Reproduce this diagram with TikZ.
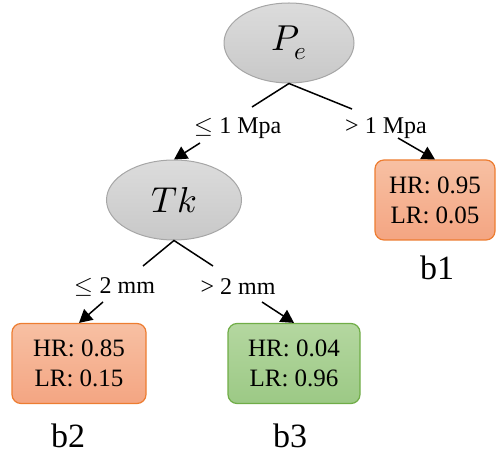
\documentclass[tikz,border=0pt]{standalone}
\usepackage{fontspec}
\usepackage{unicode-math}
\setmainfont{Liberation Serif}
\setmathfont{Latin Modern Math}
\usetikzlibrary{arrows.meta,shapes.geometric}
\definecolor{ovalfill}{HTML}{C8C8C8}
\definecolor{ovaltop}{HTML}{DCDCDC}
\definecolor{ovalline}{HTML}{A6A6A6}
\definecolor{hrtop}{HTML}{F7C0A3}
\definecolor{hrbot}{HTML}{F4A582}
\definecolor{hrline}{HTML}{ED7D31}
\definecolor{lrtop}{HTML}{B4D7A0}
\definecolor{lrbot}{HTML}{9CC985}
\definecolor{lrline}{HTML}{70AD47}
\tikzset{
  oval/.style={ellipse, draw=ovalline, line width=1pt, shading=axis,
    top color=ovaltop, bottom color=ovalfill, minimum width=130pt, minimum height=80pt,
    font=\fontsize{36}{40}\selectfont},
  leafbox/.style={rounded corners=9pt, line width=1.2pt, minimum width=130pt,
    minimum height=80pt, align=center, font=\fontsize{25}{30}\selectfont},
  hrleaf/.style={leafbox, draw=hrline, shading=axis, top color=hrtop, bottom color=hrbot},
  lrleaf/.style={leafbox, draw=lrline, shading=axis, top color=lrtop, bottom color=lrbot},
  cond/.style={font=\fontsize{24}{26}\selectfont, inner sep=0pt},
  tag/.style={font=\fontsize{34}{36}\selectfont, inner sep=0pt},
  branch/.style={line width=1.5pt},
  pointer/.style={line width=1.5pt, -{Triangle[length=13pt,width=14pt]}}
}
\begin{document}
\begin{tikzpicture}[x=1pt,y=-1pt]
\useasboundingbox (0,0) rectangle (498,454);
% decision nodes
\node[oval] (pe) at (289,43) {$P_e$};
\node[oval, minimum width=135pt] (tk) at (174,200) {$Tk$};
% leaves
\node[hrleaf, minimum width=120pt] (b1) at (435,200) {HR: 0.95\\LR: 0.05};
\node[hrleaf, minimum width=134pt] (b2) at (79,363.5) {HR: 0.85\\LR: 0.15};
\node[lrleaf, minimum width=132pt] (b3) at (294,363.5) {HR: 0.04\\LR: 0.96};
\node[tag] (t1) at (437,268) {b1};
\node[tag] (t2) at (68,436) {b2};
\node[tag] (t3) at (290,436) {b3};
% split conditions
\node[cond] (c1) at (238,128) {$\leq$ 1 Mpa};
\node[cond] (c2) at (386,128) {> 1 Mpa};
\node[cond] (c3) at (115,287) {$\leq$ 2 mm};
\node[cond] (c4) at (238,287) {> 2 mm};
% branch ends and arrow starts
\coordinate (pl) at (252,107);
\coordinate (pr) at (352,109);
\coordinate (tl) at (143,266);
\coordinate (tr) at (213,266);
\coordinate (a1) at (200,143);
\coordinate (a2) at (398,138);
\coordinate (a3) at (103,302);
\coordinate (a4) at (262,302);
\draw[branch] (pl) -- (pe.south) -- (pr);
\draw[branch] (tl) -- (tk.south) -- (tr);
\draw[pointer] (a1) -- (tk.north);
\draw[pointer] (a2) -- (b1.north);
\draw[pointer] (a3) -- (b2.north);
\draw[pointer] (a4) -- (b3.north);
\end{tikzpicture}
\end{document}
